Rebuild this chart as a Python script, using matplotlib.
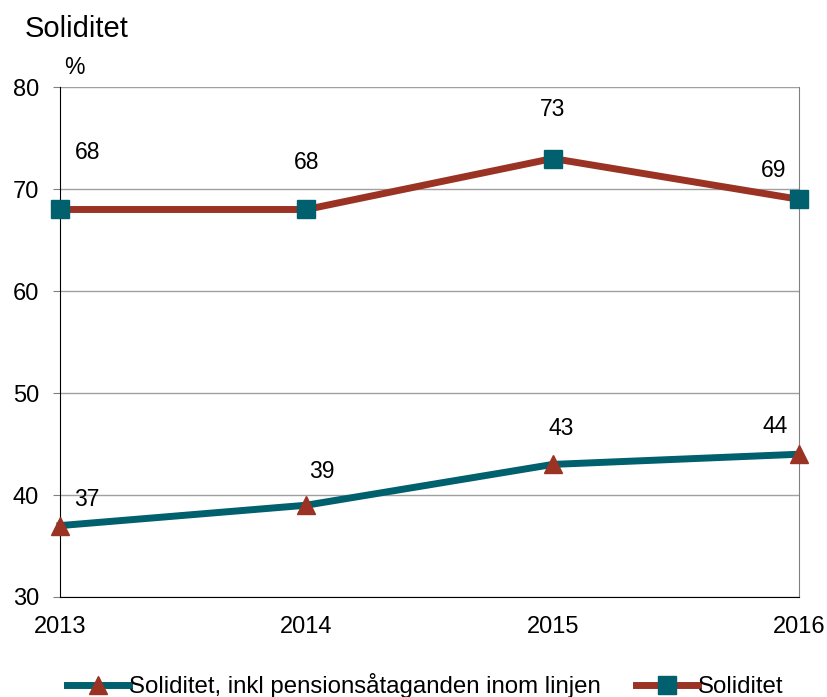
import matplotlib
matplotlib.use('Agg')
import matplotlib.pyplot as plt

plt.rcParams['font.family'] = ['Liberation Sans', 'DejaVu Sans']

years = [2013, 2014, 2015, 2016]
soliditet = [68, 68, 73, 69]
soliditet_inkl = [37, 39, 43, 44]

red = '#9a3324'
teal = '#00606e'

fig = plt.figure(figsize=(8.28, 6.97), dpi=100)
ax = fig.add_axes([0.0725, 0.1435, 0.8925, 0.7315])

ax.plot(years, soliditet_inkl, color=teal, lw=5, marker='^', ms=13,
        markerfacecolor=red, markeredgecolor=red, zorder=3, clip_on=False,
        label='Soliditet, inkl pensionsåtaganden inom linjen')
ax.plot(years, soliditet, color=red, lw=5, marker='s', ms=13,
        markerfacecolor=teal, markeredgecolor=teal, zorder=3, clip_on=False,
        label='Soliditet')

# data labels (offsets in points)
offs_top = [(20, 41), (0, 34), (0, 35), (-18, 21)]
offs_bot = [(19, 19), (11, 24), (6, 26), (-17, 20)]
for x, y, o in zip(years, soliditet, offs_top):
    ax.annotate(str(y), (x, y), xytext=o, textcoords='offset points',
                ha='center', va='center', fontsize=16.5)
for x, y, o in zip(years, soliditet_inkl, offs_bot):
    ax.annotate(str(y), (x, y), xytext=o, textcoords='offset points',
                ha='center', va='center', fontsize=16.5)

ax.set_xlim(2013, 2016)
ax.set_ylim(30, 80)
ax.set_xticks(years)
ax.set_yticks(range(30, 81, 10))
ax.tick_params(axis='both', labelsize=17, direction='out', length=5,
               color='#808080')
ax.tick_params(axis='y', pad=10)
ax.tick_params(axis='x', length=0, pad=14)
ax.yaxis.grid(True, color='#a0a0a0', lw=1)
ax.set_axisbelow(True)
for s in ['left', 'bottom']:
    ax.spines[s].set_color('black')
ax.spines['top'].set_visible(False)
ax.spines['right'].set_color('#808080')

fig.text(0.03, 0.958, 'Soliditet', fontsize=21, va='center')
fig.text(0.078, 0.903, '%', fontsize=16.5, va='center')

ax.legend(loc='upper center', bbox_to_anchor=(0.494, -0.15), ncol=2,
          frameon=False, fontsize=17.3, handlelength=2.6, handletextpad=0.0,
          columnspacing=1.45, borderaxespad=0, borderpad=0)

fig.savefig('out.png', dpi=100)
